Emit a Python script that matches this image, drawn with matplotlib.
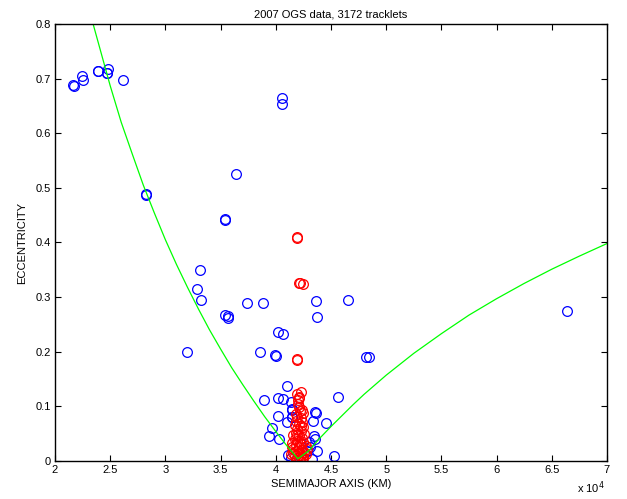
import matplotlib
matplotlib.use("Agg")
import matplotlib.pyplot as plt
import numpy as np

# semimajor axis in units of 1e4 km, eccentricity
blue_a = [2.166, 2.168, 2.245, 2.257, 2.392, 2.394, 2.468, 2.470, 2.477, 2.613,
          2.824, 2.826, 3.540, 3.542, 3.640, 4.053, 4.053,
          3.316, 3.283, 3.320, 3.742, 3.884, 4.367, 4.651,
          3.540, 3.570, 3.567, 4.370, 4.023, 4.065, 3.196, 3.854, 3.996, 3.998,
          6.638, 4.817, 4.844, 4.566, 4.099,
          3.896, 4.023, 4.068, 4.140, 4.147, 4.149, 4.358, 4.364, 4.023,
          4.147, 4.149, 4.099, 4.334, 4.455, 3.966, 3.938, 4.026, 4.349,
          4.358, 4.297, 4.370, 4.108, 4.138, 4.331, 4.530, 4.285, 4.310]
blue_e = [0.688, 0.686, 0.705, 0.697, 0.714, 0.713, 0.711, 0.710, 0.717, 0.697,
          0.488, 0.487, 0.443, 0.442, 0.526, 0.664, 0.654,
          0.349, 0.314, 0.295, 0.290, 0.289, 0.293, 0.294,
          0.268, 0.266, 0.261, 0.264, 0.237, 0.233, 0.199, 0.200, 0.194, 0.193,
          0.275, 0.190, 0.190, 0.118, 0.138,
          0.111, 0.116, 0.114, 0.108, 0.095, 0.094, 0.090, 0.087, 0.083,
          0.081, 0.080, 0.072, 0.074, 0.070, 0.061, 0.046, 0.041, 0.045,
          0.041, 0.034, 0.019, 0.011, 0.006, 0.004, 0.010, 0.018, 0.025]

red_a = [4.189, 4.190, 4.213, 4.243, 4.220, 4.189, 4.190,
         4.189, 4.225, 4.213, 4.198, 4.210, 4.234, 4.243, 4.220,
         4.19, 4.23, 4.18, 4.24, 4.21, 4.17, 4.25, 4.19, 4.23, 4.18,
         4.26, 4.16, 4.21, 4.24, 4.17, 4.19, 4.25, 4.15, 4.23, 4.18,
         4.27, 4.21, 4.16, 4.24, 4.18, 4.26, 4.20, 4.14, 4.23, 4.17,
         4.25, 4.19, 4.21, 4.24, 4.18, 4.22, 4.16, 4.28, 4.15, 4.27,
         4.22, 4.19, 4.23, 4.18, 4.21, 4.20, 4.25]
red_e = [0.410, 0.409, 0.326, 0.324, 0.325, 0.185, 0.186,
         0.122, 0.126, 0.116, 0.112, 0.118, 0.094, 0.088, 0.092,
         0.080, 0.078, 0.074, 0.072, 0.068, 0.065, 0.062, 0.058, 0.055, 0.052,
         0.050, 0.047, 0.045, 0.042, 0.040, 0.037, 0.035, 0.033, 0.031, 0.029,
         0.027, 0.025, 0.022, 0.020, 0.018, 0.016, 0.014, 0.012, 0.011, 0.009,
         0.008, 0.006, 0.004, 0.003, 0.002, 0.001, 0.015, 0.022, 0.026, 0.012,
         0.033, 0.048, 0.064, 0.086, 0.098, 0.104, 0.005]

curve_a = [2.2, 2.3, 2.4, 2.5, 2.6, 2.7, 2.8, 2.9, 3.0, 3.1, 3.2, 3.3, 3.4,
           3.5, 3.6, 3.7, 3.8, 3.9, 4.0, 4.1, 4.2, 4.3, 4.4, 4.5, 4.6, 4.7,
           4.8, 5.0, 5.25, 5.5, 5.75, 6.0, 6.25, 6.5, 6.75, 7.0]
curve_e = [0.92, 0.833, 0.76, 0.687, 0.62, 0.562, 0.505, 0.454, 0.405, 0.36,
           0.318, 0.278, 0.24, 0.205, 0.171, 0.14, 0.11, 0.081, 0.054, 0.028,
           0.004, 0.019, 0.042, 0.063, 0.083, 0.103, 0.122, 0.157, 0.197,
           0.233, 0.267, 0.297, 0.325, 0.351, 0.375, 0.398]

xticks = [2, 2.5, 3, 3.5, 4, 4.5, 5, 5.5, 6, 6.5, 7]
yticks = [0, 0.1, 0.2, 0.3, 0.4, 0.5, 0.6, 0.7, 0.8]

plt.rcParams['font.family'] = ['Liberation Sans', 'DejaVu Sans']

fig = plt.figure(figsize=(6.27, 4.99), dpi=100)
ax = fig.add_axes([0.0877, 0.0762, 0.8803, 0.8758])

ms = 7
ax.plot(np.array(blue_a) * 1e4, blue_e, 'o', mfc='none', mec='#0000ff',
        ms=ms, mew=0.9)
ax.plot(np.array(red_a) * 1e4, red_e, 'o', mfc='none', mec='#ff0000',
        ms=ms, mew=0.9)
ax.plot(np.array(curve_a) * 1e4, curve_e, '-', color='#00ff00', lw=0.9)

ax.set_xlim(2e4, 7e4)
ax.set_ylim(0, 0.8)
ax.set_xticks([t * 1e4 for t in xticks])
ax.set_xticklabels([('%g' % t) for t in xticks])
ax.set_yticks(yticks)
ax.set_yticklabels([('%g' % t) for t in yticks])
ax.tick_params(direction='in', top=True, right=True, length=4, width=0.8,
               labelsize=8, pad=3)
for s in ax.spines.values():
    s.set_linewidth(1.0)

ax.set_title('2007 OGS data, 3172 tracklets', fontsize=8, pad=5)
ax.set_xlabel('SEMIMAJOR AXIS (KM)', fontsize=8, labelpad=3)
ax.set_ylabel('ECCENTRICITY', fontsize=8, labelpad=6)
fig.text(0.92, 0.012, r'x 10$^4$', fontsize=8)

fig.savefig('out.png', dpi=100)
